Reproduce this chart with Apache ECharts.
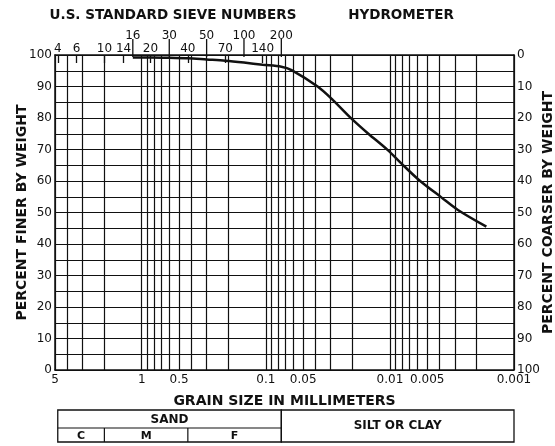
<!DOCTYPE html>
<html>
<head>
<meta charset="utf-8">
<script src="https://cdn.jsdelivr.net/npm/echarts@6/dist/echarts.min.js"></script>
<style>
  html, body { margin: 0; padding: 0; background: #fff; }
  #main { width: 555px; height: 446px; }
</style>
</head>
<body>
<div id="main"></div>
<script>
// grain size curve (mm, percent finer by weight)
var grainSize = [1.18, 0.85, 0.6, 0.425, 0.3, 0.212, 0.15, 0.106, 0.075, 0.062, 0.038, 0.0288, 0.0205, 0.015, 0.0104, 0.0081, 0.0059, 0.00385, 0.00283, 0.00167];
var percentFiner = [99.2, 99.2, 99.1, 99.0, 98.6, 98.2, 97.6, 96.9, 96.3, 95.2, 89.9, 85.7, 79.9, 75.1, 69.8, 65.6, 60.5, 54.8, 50.8, 45.5];

// vertical grid lines (mm)
var gridSizes = [5, 4, 3, 2, 1, 0.9, 0.8, 0.7, 0.6, 0.5, 0.4, 0.3, 0.2, 0.1,
  0.09, 0.08, 0.07, 0.06, 0.05, 0.04, 0.03, 0.02, 0.01,
  0.009, 0.008, 0.007, 0.006, 0.005, 0.004, 0.003, 0.002, 0.001];

// bottom axis labels
var sizeLabels = [5, 1, 0.5, 0.1, 0.05, 0.01, 0.005, 0.001];
var sizeLabelText = ['5', '1', '0.5', '0.1', '0.05', '0.01', '0.005', '0.001'];

// sieve numbers on top, two rows
var sieveLowNums = ['4', '6', '10', '14', '20', '40', '70', '140'];
var sieveLowSizes = [4.75, 3.35, 2.0, 1.4, 0.85, 0.425, 0.212, 0.106];
var sieveHighNums = ['16', '30', '50', '100', '200'];
var sieveHighSizes = [1.18, 0.6, 0.3, 0.15, 0.075];

// soil classes under the chart
var sandParts = ['C', 'M', 'F'];
var sandBounds = [4.75, 2.0, 0.425, 0.075];
var siltBounds = [0.075, 0.001];

var FONT = 'DejaVu Sans';
var INK = '#111';

function lookup(v, values, texts) {
  for (var i = 0; i < values.length; i++) {
    if (Math.abs(Math.log10(v) - Math.log10(values[i])) < 0.01) return texts[i];
  }
  return '';
}

var curve = grainSize.map(function (d, i) { return [d, percentFiner[i]]; });

var myChart = echarts.init(document.getElementById('main'));

function logAxis(extra) {
  var base = {
    type: 'log', logBase: 10, min: 0.001, max: 5, inverse: true, gridIndex: 0,
    axisLine: { show: true, onZero: false, lineStyle: { color: INK, width: 1.5 } },
    splitLine: { show: false },
    axisTick: { show: false }
  };
  return Object.assign(base, extra);
}

var titleStyle = { color: INK, fontFamily: FONT, fontSize: 14, fontWeight: 'bold' };

var option = {
  animation: false,
  grid: { left: 55, right: 41, top: 55, bottom: 76, outerBoundsMode: 'none', containLabel: false },
  xAxis: [
    logAxis({
      position: 'bottom',
      name: 'GRAIN SIZE IN MILLIMETERS',
      nameLocation: 'middle',
      nameGap: 24,
      nameMoveOverlap: false,
      nameTextStyle: titleStyle,
      axisLabel: {
        customValues: sizeLabels, margin: 4, color: INK, fontFamily: FONT, fontSize: 12,
        formatter: function (v) { return lookup(v, sizeLabels, sizeLabelText); }
      }
    }),
    logAxis({
      position: 'top',
      axisTick: { show: true, inside: true, length: 8, customValues: sieveLowSizes, lineStyle: { color: INK, width: 1.3 } },
      axisLabel: {
        customValues: sieveLowSizes, margin: 0, color: INK, fontFamily: FONT, fontSize: 12,
        formatter: function (v) { return lookup(v, sieveLowSizes, sieveLowNums); }
      }
    }),
    logAxis({
      position: 'top',
      offset: 11,
      axisLine: { show: false },
      axisLabel: {
        customValues: sieveHighSizes, margin: 2, color: INK, fontFamily: FONT, fontSize: 12,
        formatter: function (v) { return lookup(v, sieveHighSizes, sieveHighNums); }
      }
    })
  ],
  yAxis: [
    {
      type: 'value', min: 0, max: 100, interval: 10, position: 'left',
      name: 'PERCENT FINER BY WEIGHT', nameLocation: 'middle', nameGap: 26, nameRotate: 90,
      nameMoveOverlap: false,
      nameTextStyle: titleStyle,
      axisLine: { show: true, lineStyle: { color: INK, width: 1.5 } },
      axisTick: { show: false },
      axisLabel: { margin: 3, color: INK, fontFamily: FONT, fontSize: 12 },
      splitLine: { show: true, lineStyle: { color: INK, width: 1.2 } },
      minorTick: { show: false, splitNumber: 2 },
      minorSplitLine: { show: true, lineStyle: { color: INK, width: 1.2 } }
    },
    {
      type: 'value', min: 0, max: 100, interval: 10, position: 'right', inverse: true,
      name: 'PERCENT COARSER BY WEIGHT', nameLocation: 'middle', nameGap: 27, nameRotate: 90,
      nameMoveOverlap: false,
      nameTextStyle: titleStyle,
      axisLine: { show: true, lineStyle: { color: INK, width: 1.5 } },
      axisTick: { show: false },
      axisLabel: { margin: 3, color: INK, fontFamily: FONT, fontSize: 12 },
      splitLine: { show: false }
    }
  ],
  series: [
    {
      type: 'line',
      xAxisIndex: 0,
      yAxisIndex: 0,
      data: curve,
      smooth: 0.3,
      symbol: 'none',
      lineStyle: { color: INK, width: 2.5 },
      markLine: {
        silent: true,
        precision: 6,
        symbol: ['none', 'none'],
        label: { show: false },
        lineStyle: { color: INK, width: 1.2, type: 'solid' },
        data: gridSizes.map(function (v) { return { xAxis: v }; })
      },
      z: 5
    }
  ]
};

myChart.setOption(option);

function px(d) { return myChart.convertToPixel({ xAxisIndex: 0 }, d); }
var g = [];

// long ticks under the upper row of sieve numbers
sieveHighSizes.forEach(function (d) {
  var x = px(d);
  g.push({ type: 'line', shape: { x1: x, y1: 39, x2: x, y2: 57 }, style: { stroke: INK, lineWidth: 1.3 } });
});

// classification table below the chart, aligned to the grain size scale
var top0 = 410, mid = 428, bot = 442;
var sx0 = px(sandBounds[0]), sx3 = px(sandBounds[3]);
g.push({ type: 'rect', shape: { x: sx0, y: top0, width: sx3 - sx0, height: bot - top0 }, style: { fill: 'none', stroke: INK, lineWidth: 1.3 } });
g.push({ type: 'line', shape: { x1: sx0, y1: mid, x2: sx3, y2: mid }, style: { stroke: INK, lineWidth: 1.2 } });
g.push({ type: 'text', x: (sx0 + sx3) / 2, y: (top0 + mid) / 2 + 1, style: { text: 'SAND', fill: INK, font: 'bold 12px "DejaVu Sans"', align: 'center', verticalAlign: 'middle' } });
for (var i = 0; i < sandParts.length; i++) {
  var a = px(sandBounds[i]), b = px(sandBounds[i + 1]);
  if (i > 0) g.push({ type: 'line', shape: { x1: a, y1: mid, x2: a, y2: bot }, style: { stroke: INK, lineWidth: 1.2 } });
  g.push({ type: 'text', x: (a + b) / 2, y: (mid + bot) / 2 + 1, style: { text: sandParts[i], fill: INK, font: 'bold 11px "DejaVu Sans"', align: 'center', verticalAlign: 'middle' } });
}
var cx0 = px(siltBounds[0]), cx1 = px(siltBounds[1]);
g.push({ type: 'rect', shape: { x: cx0, y: top0, width: cx1 - cx0, height: bot - top0 }, style: { fill: 'none', stroke: INK, lineWidth: 1.3 } });
g.push({ type: 'text', x: (cx0 + cx1) / 2, y: (top0 + bot) / 2, style: { text: 'SILT OR CLAY', fill: INK, font: 'bold 12px "DejaVu Sans"', align: 'center', verticalAlign: 'middle' } });

// headers above the sieve numbers
g.push({ type: 'text', x: 173, y: 15, style: { text: 'U.S. STANDARD SIEVE NUMBERS', fill: INK, font: 'bold 13.5px "DejaVu Sans"', align: 'center', verticalAlign: 'middle' } });
g.push({ type: 'text', x: 401, y: 15, style: { text: 'HYDROMETER', fill: INK, font: 'bold 13.5px "DejaVu Sans"', align: 'center', verticalAlign: 'middle' } });

myChart.setOption({ graphic: g });
</script>
</body>
</html>
